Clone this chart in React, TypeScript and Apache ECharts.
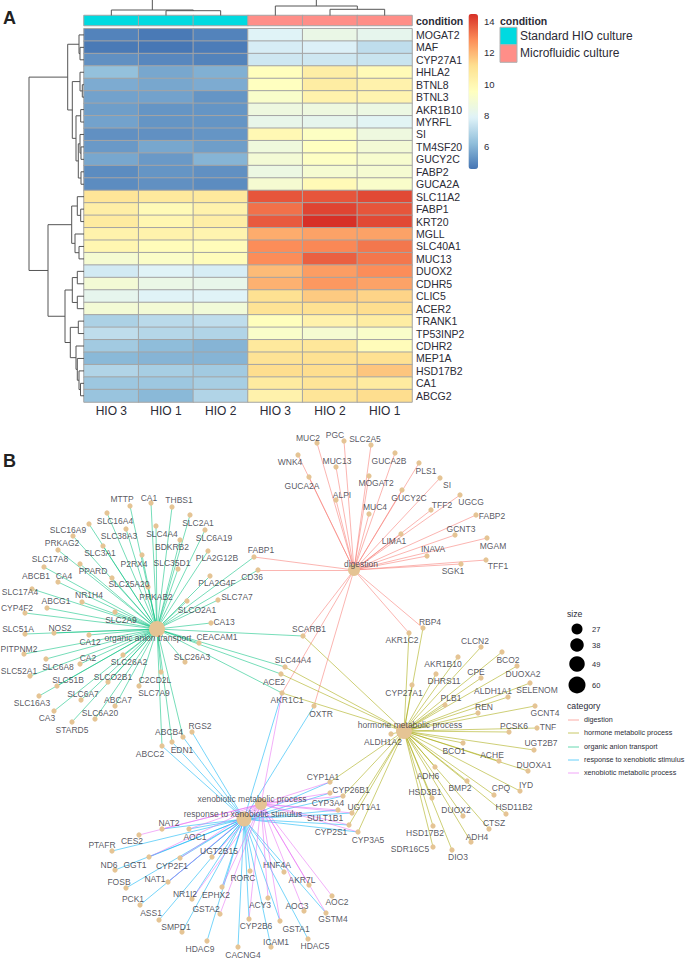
import React, { useEffect, useRef } from "react";
import * as echarts from "echarts";

// ---------- heatmap data ----------
const columnLabels = ["HIO 3", "HIO 1", "HIO 2", "HIO 3", "HIO 2", "HIO 1"];
const conditionCodes = [0, 0, 0, 1, 1, 1];
const conditionNames = ["Standard HIO culture", "Microfluidic culture"];
const rowLabels = ["MOGAT2","MAF","CYP27A1","HHLA2","BTNL8","BTNL3","AKR1B10","MYRFL","SI","TM4SF20","GUCY2C","FABP2","GUCA2A","SLC11A2","FABP1","KRT20","MGLL","SLC40A1","MUC13","DUOX2","CDHR5","CLIC5","ACER2","TRANK1","TP53INP2","CDHR2","MEP1A","HSD17B2","CA1","ABCG2"];
const standardValues = [
  [4.9,4.7,4.9],[4.7,4.65,4.75],[5.2,5.0,4.9],[6.3,5.7,5.9],[5.8,5.7,5.8],[5.6,5.6,5.3],[5.5,5.3,5.3],[5.6,5.3,5.3],[5.2,5.2,5.3],[5.4,5.7,5.5],
  [5.7,5.4,6.0],[5.1,5.3,5.2],[5.1,5.2,5.1],[10.9,10.7,10.7],[10.4,9.8,10.2],[10.6,10.0,10.4],[10.2,10.2,10.1],[10.0,9.7,9.7],[9.0,9.3,9.7],[7.6,7.9,7.7],
  [8.9,8.4,8.3],[8.2,7.9,7.9],[8.9,8.9,8.8],[6.8,7.1,7.2],[7.2,7.0,6.9],[6.6,6.2,6.0],[6.1,6.0,6.0],[6.9,6.7,6.6],[6.5,6.5,6.7],[6.4,6.1,6.9],
];
const microfluidicValues = [
  [7.9,8.4,8.2],[7.7,7.8,7.2],[7.5,7.5,7.4],[9.6,10.4,9.8],[9.5,10.5,10.2],[9.2,10.2,10.1],[8.6,8.6,8.5],[8.3,8.2,8.0],[9.9,9.4,8.6],[8.7,9.5,8.9],
  [8.9,9.4,9.1],[8.5,9.0,9.0],[9.0,9.8,9.2],[13.8,13.8,14.0],[13.3,14.1,13.8],[13.7,14.45,14.0],[12.2,12.4,12.4],[12.8,12.9,13.2],[12.8,13.6,13.2],[11.9,12.5,12.8],
  [12.1,12.6,12.4],[11.1,11.6,11.4],[11.0,11.1,11.2],[9.6,10.2,10.5],[9.2,9.0,9.2],[10.7,10.8,9.7],[11.0,11.1,11.1],[11.2,11.2,11.7],[10.6,10.9,10.6],[10.2,10.9,11.2],
];
const colourTicks = [6, 8, 10, 12, 14];
const colourMin = 4.6;
const colourMax = 14.45;
const rdYlBu = ["#4575B4","#91BFDB","#E0F3F8","#FFFFBF","#FEE090","#FC8D59","#D73027"];

// ---------- dendrograms: [merge position, child, child]; leaf = row/column index ----------
type Tree = number | [number, Tree, Tree];
const rowTree: Tree = [29,
  [67.7,
    [79, 0, [80, 1, 2]],
    [72.3,
      [80, 3, [82.3, 4, 5]],
      [76,
        [80.7, 6, 7],
        [78.3,
          [80, 8, [81, 9, 10]],
          [81, 11, 12]]]]],
  [48,
    [71.7,
      [77.3, 13, [80.7, 14, 15]],
      [75, 16, [79, 17, 18]]],
    [65,
      [72.3, [77.3, 19, 20], [77.3, 21, 22]],
      [70.3,
        [78.3, 23, 24],
        [76, 25, [77.3, 26, [79, 27, [80.5, 28, 29]]]]]]]];
const colTree: Tree = [-6,
  [10, 0, [10.7, 1, 2]],
  [6, 3, [9.3, 4, 5]]];

// ---------- network data ----------
const DIG = "digestion", HOR = "hormone metabolic process", ORG = "organic anion transport", RES = "response to xenobiotic stimulus", XEN = "xenobiotic metabolic process";
const categoryNames = [DIG, HOR, ORG, RES, XEN];
const categoryColours = ["#F8766D", "#A3A500", "#00BF7D", "#00B0F6", "#E76BF3"];
const digestionGenes = ["MUC2","PGC","SLC2A5","WNK4","GUCA2B","MUC13","PLS1","GUCA2A","MOGAT2","SI","GUCY2C","UGCG","ALPI","TFF2","MUC4","FABP2","LIMA1","GCNT3","MGAM","INAVA","TFF1","SGK1","RBP4","AKR1C2","FABP1","CD36","SCARB1","AKR1C1","OXTR"];
const hormoneGenes = ["AKR1C2","RBP4","CLCN2","BCO2","AKR1B10","DUOXA2","DHRS11","CPE","SELENOM","CYP27A1","ALDH1A1","PLB1","GCNT4","REN","TNF","PCSK6","UGT2B7","ALDH1A2","BCO1","ACHE","DUOXA1","ADH6","BMP2","CPQ","IYD","HSD3B1","HSD11B2","DUOX2","CTSZ","HSD17B2","ADH4","SDR16C5","DIO3","SCARB1","SLC44A4","ACE2","AKR1C1","CYP1A1","CYP26B1","UGT1A1","CYP2S1","CYP3A5"];
const organicGenes = ["MTTP","CA1","THBS1","SLC16A4","SLC2A1","SLC4A4","SLC38A3","SLC16A9","SLC6A19","BDKRB2","PRKAG2","SLC3A1","P2RX4","PLA2G12B","SLC35D1","SLC17A8","PPARD","ABCB1","CA4","SLC25A20","PRKAB2","FABP1","CD36","PLA2G4F","SLC7A7","SLCO2A1","CA13","SCARB1","CEACAM1","SLC26A3","SLC44A4","ACE2","AKR1C1","SLC17A4","ABCG1","NR1H4","CYP4F2","SLC2A9","SLC51A","NOS2","CA12","PITPNM2","CA2","SLC6A8","SLC52A1","SLC26A2","SLCO2B1","SLC51B","C2CD2L","SLC7A9","SLC6A7","ABCA7","SLC16A3","CA3","SLC6A20","STARD5","ABCB4","EDN1","ABCC2"];
const responseGenes = ["ABCB4","EDN1","ABCC2","RGS2","AKR1C1","OXTR","CYP1A1","CYP26B1","CYP3A4","SULT1B1","UGT1A1","CYP2S1","CYP3A5","NAT2","PTAFR","AOC1","ND6","GGT1","CYP2F1","UGT2B15","FOSB","NAT1","PCK1","ASS1","NR1I2","EPHX2","RORC","HNF4A","GSTM4","CYP2B6","GSTA1","SMPD1","HDAC9","CACNG4","ICAM1","HDAC5"];
const xenobioticGenes = ["AKR1C1","CYP1A1","CYP26B1","CYP3A4","SULT1B1","UGT1A1","CYP2S1","CYP3A5","NAT2","CES2","AOC1","GGT1","CYP2F1","UGT2B15","NAT1","NR1I2","EPHX2","GSTA2","ACY3","AOC3","AOC2","AKR7L","GSTM4","CYP2B6","GSTA1"];
const categoryGenes = [digestionGenes, hormoneGenes, organicGenes, responseGenes, xenobioticGenes];

// layout: name, node x, node y, label x, label y
const hubLayout: [string, number, number, number, number, number][] = [
  [DIG, 354, 570, 361, 564, 12],
  [HOR, 404, 731, 410, 725, 16],
  [ORG, 157, 629, 148, 638, 16],
  [RES, 244, 819, 243, 814, 15],
  [XEN, 261, 804, 252, 799, 12],
];
const geneLayout: [string, number, number, number, number][] = [
  ["MTTP",130,506,122,499],["CA1",151,503,149,498],["THBS1",172,507,179,500],["SLC16A4",107,513,115,521],["SLC2A1",190,515,198,523],["SLC4A4",156,526,162,534],["SLC38A3",126,529,119,536],["SLC16A9",89,524,68,530],["SLC6A19",205,530,214,538],["BDKRB2",180,540,172,547],["PRKAG2",73,536,62,543],["SLC3A1",103,546,100,553],["P2RX4",142,555,134,564],["PLA2G12B",208,551,217,558],["SLC35D1",178,569,172,563],["SLC17A8",58,550,50,559],["PPARD",80,564,93,571],["ABCB1",44,567,36,576],["CA4",58,582,64,576],["SLC25A20",112,578,129,584],["PRKAB2",148,587,156,597],["FABP1",254,557,261,550],["CD36",258,570,252,577],["PLA2G4F",210,576,217,583],["SLC7A7",218,600,237,597],["SLCO2A1",187,601,197,610],["CA13",211,623,224,622],["SCARB1",303,636,309,629],["CEACAM1",199,643,217,637],["SLC26A3",185,662,192,657],["SLC44A4",285,667,293,660],["ACE2",281,674,274,682],["AKR1C1",282,693,287,700],["SLC17A4",32,589,20,592],["ABCG1",47,608,56,601],["NR1H4",82,602,89,595],["CYP4F2",25,613,17,608],["SLC2A9",115,612,121,620],["SLC51A",25,634,18,629],["NOS2",54,633,60,628],["CA12",89,635,90,642],["PITPNM2",24,654,19,649],["CA2",80,664,88,658],["SLC6A8",46,659,58,667],["SLC52A1",30,676,19,671],["SLC26A2",123,655,129,662],["SLCO2B1",108,682,113,677],["SLC51B",57,686,68,680],["C2CD2L",161,672,155,680],["SLC7A9",139,686,154,693],["SLC6A7",81,700,83,694],["ABCA7",115,706,118,700],["SLC16A3",39,696,32,703],["CA3",54,711,47,718],["SLC6A20",95,719,100,713],["STARD5",72,722,72,730],["ABCB4",183,737,169,732],["RGS2",192,732,200,726],["EDN1",172,742,182,750],["ABCC2",162,746,150,754],
  ["MUC2",317,443,308,438],["PGC",344,441,335,435],["SLC2A5",371,445,365,439],["WNK4",298,455,290,462],["GUCA2B",395,453,389,461],["MUC13",336,467,337,461],["PLS1",419,463,426,471],["GUCA2A",309,477,302,486],["MOGAT2",369,476,376,483],["SI",440,478,447,485],["GUCY2C",402,490,409,498],["UGCG",460,495,471,502],["ALPI",336,500,342,495],["TFF2",431,510,442,505],["MUC4",369,514,375,507],["FABP2",476,515,492,516],["LIMA1",401,534,394,541],["GCNT3",455,535,461,529],["MGAM",487,538,493,546],["INAVA",427,556,433,549],["TFF1",486,560,498,566],["SGK1",461,564,453,571],["RBP4",423,628,430,622],["AKR1C2",409,633,402,640],["OXTR",314,706,321,714],
  ["CLCN2",481,647,475,641],["BCO2",502,652,508,660],["AKR1B10",458,657,443,664],["DUOXA2",517,666,523,674],["DHRS11",436,674,444,681],["CPE",481,678,476,672],["SELENOM",530,683,537,690],["CYP27A1",412,685,404,693],["ALDH1A1",508,697,493,691],["PLB1",445,705,451,698],["GCNT4",535,706,545,713],["REN",478,713,484,707],["TNF",537,728,548,727],["PCSK6",509,732,514,726],["UGT2B7",534,750,541,743],["ALDH1A2",391,734,383,742],["BCO1",463,743,454,751],["ACHE",499,761,492,755],["DUOXA1",528,771,534,765],["ADH6",435,767,428,776],["BMP2",467,781,460,788],["CPQ",494,795,501,788],["IYD",520,791,526,785],["HSD3B1",432,798,425,792],["HSD11B2",506,814,514,807],["DUOX2",463,816,456,810],["CTSZ",489,829,494,823],["HSD17B2",433,826,425,833],["ADH4",471,842,477,837],["SDR16C5",433,847,410,849],["DIO3",452,850,458,857],
  ["CYP1A1",330,782,323,777],["CYP26B1",343,796,351,790],["CYP3A4",330,793,328,803],["SULT1B1",338,810,325,818],["UGT1A1",352,813,364,807],["CYP2S1",349,825,331,832],["CYP3A5",358,832,368,840],["NAT2",162,829,169,823],["PTAFR",112,851,102,845],["CES2",139,835,132,841],["AOC1",189,829,195,837],["ND6",115,870,109,865],["GGT1",149,857,135,865],["CYP2F1",180,858,172,866],["UGT2B15",212,857,219,851],["FOSB",126,888,119,882],["NAT1",168,882,155,879],["PCK1",140,905,133,899],["ASS1",159,920,151,913],["NR1I2",192,899,185,894],["EPHX2",222,887,216,895],["RORC",250,871,243,878],["HNF4A",284,872,277,865],["AKR7L",309,885,302,880],["AOC2",332,896,337,902],["GSTM4",326,913,333,919],["AOC3",304,911,297,906],["ACY3",268,898,260,905],["GSTA2",220,914,206,909],["CYP2B6",249,919,256,926],["GSTA1",280,921,296,929],["SMPD1",182,932,176,927],["HDAC9",207,941,200,949],["CACNG4",238,947,243,955],["ICAM1",271,947,276,942],["HDAC5",308,939,315,946],
];
const sizeLegendValues = [27, 38, 49, 60];
const sizeLegendDiameters = [11, 13.5, 15.5, 17];

// ---------- helpers ----------
const FONT = "'Liberation Sans', Arial, sans-serif";
const TEXT = "#2b2b36";

function treeSegments(tree: Tree, leaf: (i: number) => number, leafEnd: number, horizontal: boolean) {
  const segs: number[][] = [];
  const add = (h1: number, c1: number, h2: number, c2: number) =>
    segs.push(horizontal ? [h1, c1, h2, c2] : [c1, h1, c2, h2]);
  const walk = (t: Tree): [number, number] => {
    if (typeof t === "number") return [leafEnd, leaf(t)];
    const [h, a, b] = t;
    const [ha, ca] = walk(a);
    const [hb, cb] = walk(b);
    add(h, ca, ha, ca);
    add(h, cb, hb, cb);
    add(h, ca, h, cb);
    return [h, (ca + cb) / 2];
  };
  walk(tree);
  return segs;
}

const HM = { left: 84, top: 28.7, width: 328, height: 373.3 };

function buildOption() {
  const heatData: number[][] = [];
  rowLabels.forEach((_, r) => {
    [...standardValues[r], ...microfluidicValues[r]].forEach((v, c) => heatData.push([c, r, v]));
  });
  const cw = HM.width / columnLabels.length;
  const rh = HM.height / rowLabels.length;
  const rowSegs = treeSegments(rowTree, (i) => HM.top + rh * (i + 0.5), HM.left, true);
  const colSegs = treeSegments(colTree, (i) => HM.left + cw * (i + 0.5), 15.5, false);

  const nodes = [
    ...hubLayout.map(([name, x, y, , , d]) => ({ name, value: [x, y], symbolSize: d })),
    ...geneLayout.map(([name, x, y]) => ({ name, value: [x, y], symbolSize: 5.2 })),
  ];
  const links: any[] = [];
  categoryGenes.forEach((genes, k) =>
    genes.forEach((g) =>
      links.push({ source: categoryNames[k], target: g, lineStyle: { color: categoryColours[k], opacity: 0.6, width: 0.9 } })
    )
  );
  const labelData = [
    ...hubLayout.map(([name, , , lx, ly]) => [lx, ly, name]),
    ...geneLayout.map(([name, , , lx, ly]) => [lx, ly, name]),
  ];

  const sizeY = [629, 645, 664, 685];
  const catY = [720, 733, 747, 760, 773];
  const graphic: any[] = [
    { type: "text", x: 3, y: 9, style: { text: "A", font: `bold 18px ${FONT}`, fill: "#222" } },
    { type: "text", x: 3, y: 452, style: { text: "B", font: `bold 18px ${FONT}`, fill: "#222" } },
    { type: "text", x: 500, y: 15, style: { text: "condition", font: `bold 10.5px ${FONT}`, fill: TEXT } },
    { type: "text", x: 567, y: 609, style: { text: "size", font: `8.7px ${FONT}`, fill: TEXT } },
    { type: "text", x: 567, y: 701, style: { text: "category", font: `8.7px ${FONT}`, fill: TEXT } },
  ];
  conditionNames.forEach((n, i) => {
    const y = 27.3 + i * 17.5;
    graphic.push({ type: "rect", shape: { x: 500, y, width: 17, height: 17.5 }, style: { fill: i ? "#FF8E88" : "#00DAE0", stroke: "#B0B0B0", lineWidth: 1 } });
    graphic.push({ type: "text", x: 520, y: y + 2.5, style: { text: n, font: `12px ${FONT}`, fill: TEXT } });
  });
  sizeLegendValues.forEach((v, i) => {
    graphic.push({ type: "circle", shape: { cx: 577, cy: sizeY[i], r: sizeLegendDiameters[i] / 2 }, style: { fill: "#000" } });
    graphic.push({ type: "text", x: 592, y: sizeY[i] - 4, style: { text: String(v), font: `7.5px ${FONT}`, fill: TEXT } });
  });
  categoryNames.forEach((n, i) => {
    graphic.push({ type: "line", shape: { x1: 568, y1: catY[i], x2: 579, y2: catY[i] }, style: { stroke: categoryColours[i], lineWidth: 1, opacity: 0.6 } });
    graphic.push({ type: "text", x: 584, y: catY[i] - 4, style: { text: n, font: `7.2px ${FONT}`, fill: TEXT } });
  });

  const hiddenPixel = { show: false, axisLine: { show: false }, axisTick: { show: false }, axisLabel: { show: false }, splitLine: { show: false } };
  const renderSeg = (_: any, api: any) => {
    const a = api.coord([api.value(0), api.value(1)]);
    const b = api.coord([api.value(2), api.value(3)]);
    return { type: "line", shape: { x1: a[0], y1: a[1], x2: b[0], y2: b[1] }, style: { stroke: "#555", lineWidth: 1, fill: null } };
  };

  return {
    animation: false,
    backgroundColor: "#fff",
    textStyle: { fontFamily: FONT },
    grid: [
      { left: HM.left, top: HM.top, width: HM.width, height: HM.height },
      { left: HM.left, top: 15.5, width: HM.width, height: 10 },
      { left: 0, top: 0, width: 685, height: 959 },
      { left: 468.5, top: 14, width: 9.5, height: 155 },
    ],
    xAxis: [
      { gridIndex: 0, type: "category", data: columnLabels, position: "bottom", axisLine: { show: false }, axisTick: { show: false }, splitLine: { show: false },
        axisLabel: { fontSize: 12, color: TEXT, margin: 3, interval: 0, fontFamily: FONT } },
      { gridIndex: 1, type: "category", data: columnLabels, ...hiddenPixel },
      { gridIndex: 2, type: "value", min: 0, max: 685, ...hiddenPixel },
      { gridIndex: 3, type: "value", min: 0, max: 1, ...hiddenPixel },
    ],
    yAxis: [
      { gridIndex: 0, type: "category", data: rowLabels, inverse: true, position: "right", axisLine: { show: false }, axisTick: { show: false }, splitLine: { show: false },
        axisLabel: { fontSize: 10.5, color: TEXT, margin: 4, interval: 0, fontFamily: FONT, padding: [2, 0, 0, 0] } },
      { gridIndex: 1, type: "category", data: ["condition"], position: "right", axisLine: { show: false }, axisTick: { show: false },
        axisLabel: { fontSize: 10.5, fontWeight: "bold", color: TEXT, margin: 4, fontFamily: FONT, padding: [2, 0, 0, 0] } },
      { gridIndex: 2, type: "value", min: 0, max: 959, inverse: true, ...hiddenPixel },
      { gridIndex: 3, type: "value", position: "right", min: colourMin, max: colourMax, axisLine: { show: false }, axisTick: { show: false }, splitLine: { show: false },
        axisLabel: { fontSize: 9.5, color: TEXT, margin: 6, customValues: colourTicks, fontFamily: FONT } },
    ],
    visualMap: [
      { type: "continuous", seriesIndex: 0, min: colourMin, max: colourMax, calculable: false, show: true, realtime: false, left: 468.5, top: 14, padding: 0, itemWidth: 9.5, itemHeight: 155, text: ["", ""], showLabel: false, inRange: { color: rdYlBu } },
      { type: "piecewise", seriesIndex: 1, show: false, pieces: [{ value: 0, color: "#00DAE0" }, { value: 1, color: "#FF8E88" }] },
    ],
    graphic,
    series: [
      { type: "heatmap", xAxisIndex: 0, yAxisIndex: 0, data: heatData, silent: true, itemStyle: { borderColor: "#A4A4A4", borderWidth: 1 } },
      { type: "heatmap", xAxisIndex: 1, yAxisIndex: 1, data: conditionCodes.map((v, c) => [c, 0, v]), silent: true, itemStyle: { borderColor: "#A4A4A4", borderWidth: 1 } },
      { type: "custom", xAxisIndex: 2, yAxisIndex: 2, silent: true, data: [...rowSegs, ...colSegs], encode: { x: [0, 2], y: [1, 3] }, renderItem: renderSeg, clip: false },
      { type: "graph", coordinateSystem: "cartesian2d", xAxisIndex: 2, yAxisIndex: 2, layout: "none", silent: true, roam: false, data: nodes, links, symbol: "circle",
        itemStyle: { color: "#E5C494", opacity: 1 }, label: { show: false }, edgeSymbol: ["none", "none"] },
      { type: "scatter", xAxisIndex: 2, yAxisIndex: 2, silent: true, symbolSize: 0, data: labelData, z: 5,
        label: { show: true, position: "inside", formatter: (p: any) => p.value[2], fontSize: 8.5, color: TEXT, fontFamily: FONT } },
    ],
  };
}

export default function App() {
  const ref = useRef<HTMLDivElement>(null);
  useEffect(() => {
    const chart = echarts.init(ref.current!, undefined, { renderer: "svg" });
    chart.setOption(buildOption() as any);
    return () => chart.dispose();
  }, []);
  return <div ref={ref} style={{ position: "absolute", left: 0, top: 0, width: 685, height: 959 }} />;
}
